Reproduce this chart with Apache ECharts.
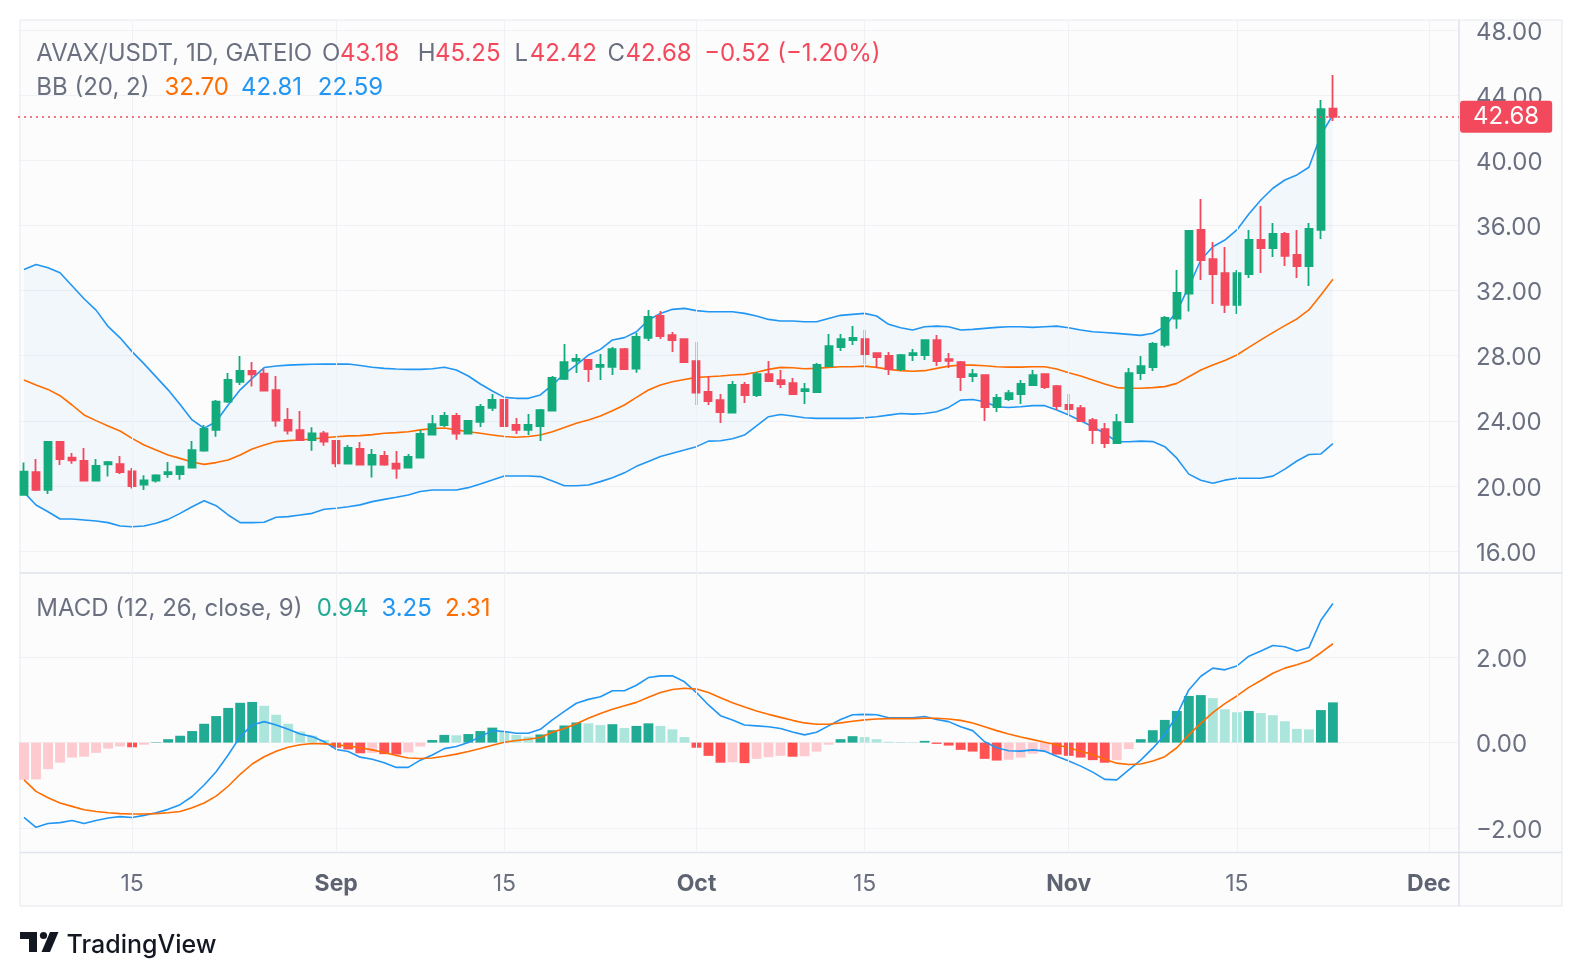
<!DOCTYPE html>
<html><head><meta charset="utf-8">
<script src="https://cdn.jsdelivr.net/npm/echarts@6/dist/echarts.min.js"></script>
<style>html,body{margin:0;padding:0;background:#fff}#c{width:1582px;height:978px}</style>
</head><body><div id="c"></div><script>
// ---- categories (daily, 2024-08-06 .. 2024-12-03) ----
const monthNames = ['Jan','Feb','Mar','Apr','May','Jun','Jul','Aug','Sep','Oct','Nov','Dec'];
const dates = [];
for (let i = 0; i < 120; i++) { const t = new Date(Date.UTC(2024, 7, 6 + i)); dates.push(monthNames[t.getUTCMonth()] + ' ' + t.getUTCDate()); }
const tickDates = ['Aug 15','Sep 1','Sep 15','Oct 1','Oct 15','Nov 1','Nov 15','Dec 1'];
const tickLabels = ['15','Sep','15','Oct','15','Nov','15','Dec'];
const priceTicks = [16,20,24,28,32,36,40,44,48];
const macdTicks = [-2,0,2];

// ---- OHLC ----
const opens = [19.44,20.85,19.75,22.70,21.73,21.53,20.32,21.32,21.34,20.89,
20.07,20.32,20.73,20.73,21.12,22.16,23.45,25.18,26.40,27.06,
26.90,25.89,24.05,23.43,22.82,23.23,22.76,21.37,22.27,21.30,
21.84,21.37,21.12,21.74,23.15,23.74,24.30,23.21,23.93,24.79,
25.28,23.74,23.44,23.68,24.62,26.57,27.68,27.74,27.31,27.31,
28.41,27.20,29.09,30.44,29.27,29.02,27.67,25.77,25.27,24.50,
26.20,25.58,26.87,26.50,26.32,25.83,25.77,27.36,28.53,28.96,
29.02,28.16,27.98,27.18,28.04,28.04,28.96,27.79,27.61,26.75,
26.81,24.84,25.34,25.64,26.20,26.87,26.13,24.97,24.78,24.04,
23.49,22.63,23.92,26.93,27.30,28.66,30.28,31.81,35.73,33.94,
33.08,31.12,33.02,35.11,34.62,35.48,34.19,33.51,35.73,43.18];
const closes = [20.87,19.75,22.70,21.65,21.57,20.32,21.22,21.45,20.85,19.99,
20.34,20.65,20.85,21.18,22.20,23.50,25.18,26.51,27.06,26.86,
25.85,24.01,23.39,22.82,23.23,22.72,21.39,22.33,21.30,21.90,
21.30,21.06,21.78,23.19,23.80,24.30,23.21,23.99,24.85,25.28,
23.68,23.44,23.74,24.66,26.63,27.61,27.80,27.18,27.43,28.41,
27.18,29.15,30.38,29.21,28.96,27.61,25.73,25.21,24.54,26.20,
25.58,26.87,26.44,26.26,25.64,25.95,27.43,28.59,29.02,29.09,
28.10,27.92,27.18,28.04,28.16,28.96,27.67,27.69,26.69,26.87,
24.84,25.40,25.70,26.26,26.81,26.07,24.90,24.72,23.98,23.43,
22.63,23.92,26.93,27.36,28.72,30.32,31.86,35.67,33.88,33.02,
31.12,33.08,35.11,34.62,35.48,34.13,33.51,35.79,43.16,42.68];
const lows = [19.40,19.68,19.50,21.28,21.36,20.30,20.30,20.57,20.73,19.83,
19.75,20.20,20.50,20.38,21.10,22.10,23.02,25.10,26.20,26.10,
25.80,23.64,23.15,22.78,22.16,22.47,21.14,21.35,21.28,20.51,
21.24,20.44,21.06,21.70,23.10,23.62,22.84,23.18,23.62,24.60,
23.62,23.19,23.13,22.76,24.58,26.51,26.94,26.39,26.51,26.82,
27.12,26.95,28.90,29.02,28.22,27.55,24.97,24.97,23.86,24.44,
25.09,25.46,26.40,26.01,25.60,25.03,25.70,27.30,28.29,28.65,
27.49,27.24,26.81,27.06,27.67,27.73,27.36,27.24,25.83,26.38,
23.98,24.54,25.21,25.03,26.14,25.95,24.66,24.35,23.96,22.57,
22.32,22.57,23.90,26.50,27.06,28.52,29.66,30.71,32.65,31.18,
30.62,30.56,32.78,33.08,34.07,33.51,32.78,32.29,35.17,42.42];
const highs = [21.43,21.65,22.76,22.76,22.02,22.33,21.65,21.53,21.84,21.10,
20.65,20.71,21.47,21.24,22.76,23.74,25.28,26.94,27.98,27.61,
27.20,26.75,24.79,24.60,23.60,23.37,22.82,22.51,22.70,22.27,
22.14,22.14,21.96,23.44,24.36,24.54,24.48,24.05,25.03,25.65,
25.34,24.17,24.42,24.72,26.75,28.72,28.11,27.80,28.11,28.54,
28.48,29.39,30.81,30.74,29.45,29.05,28.84,26.75,25.64,26.44,
26.38,27.00,27.67,27.12,26.63,26.32,27.55,29.33,29.33,29.82,
29.58,28.16,28.22,28.10,28.41,28.96,29.27,28.16,27.67,27.18,
26.81,25.64,25.89,26.50,27.12,26.87,26.20,25.64,24.97,24.17,
23.86,24.41,27.24,27.98,28.84,30.44,33.27,35.73,37.63,34.99,
34.68,33.27,35.73,37.20,36.16,35.60,35.73,36.16,43.72,45.25];

// ---- Bollinger Bands (20, 2) ----
const bbUpper = [33.3,33.6,33.4,33.1,32.3,31.5,30.8,29.8,29.1,28.25,
27.5,26.7,25.9,25.0,24.05,23.54,23.95,24.97,25.9,26.61,
27.27,27.37,27.42,27.45,27.47,27.48,27.48,27.49,27.4,27.29,
27.22,27.18,27.16,27.16,27.2,27.29,27.12,26.75,26.26,25.83,
25.44,25.38,25.38,25.59,26.2,26.88,27.43,28.04,28.39,28.97,
29.11,29.47,30.19,30.6,30.85,30.91,30.77,30.7,30.7,30.7,
30.6,30.44,30.23,30.13,30.13,30.09,30.09,30.29,30.48,30.54,
30.6,30.44,29.93,29.72,29.58,29.78,29.82,29.78,29.58,29.62,
29.68,29.74,29.78,29.78,29.74,29.78,29.82,29.72,29.58,29.47,
29.43,29.37,29.31,29.25,29.38,29.79,30.71,32.24,33.88,34.7,
35.11,35.73,36.71,37.57,38.29,38.8,39.11,39.58,41.57,42.81];
const bbBasis = [26.5,26.2,25.93,25.54,24.97,24.36,24.01,23.68,23.37,22.92,
22.51,22.2,21.9,21.69,21.47,21.32,21.43,21.59,21.9,22.27,
22.51,22.72,22.78,22.82,22.88,22.96,23.02,23.07,23.09,23.15,
23.23,23.27,23.33,23.44,23.52,23.56,23.44,23.33,23.23,23.13,
23.03,22.99,23.03,23.13,23.33,23.58,23.85,24.05,24.30,24.62,
24.97,25.44,25.89,26.2,26.4,26.54,26.67,26.71,26.75,26.81,
26.85,26.98,27.16,27.28,27.26,27.2,27.22,27.28,27.32,27.32,
27.36,27.28,27.16,27.08,27.04,27.08,27.22,27.36,27.42,27.42,
27.38,27.32,27.3,27.3,27.32,27.32,27.18,26.95,26.75,26.5,
26.26,26.04,26.0,26.0,26.04,26.1,26.30,26.71,27.12,27.43,
27.70,28.04,28.51,28.97,29.42,29.85,30.26,30.81,31.73,32.70];
const bbLower = [19.6,18.82,18.41,17.96,17.96,17.9,17.84,17.74,17.53,17.49,
17.53,17.70,17.94,18.31,18.72,19.09,18.78,18.21,17.74,17.74,
17.76,18.07,18.11,18.21,18.31,18.56,18.62,18.72,18.83,19.03,
19.17,19.3,19.44,19.65,19.75,19.75,19.75,19.89,20.12,20.36,
20.61,20.61,20.61,20.57,20.30,20.01,20.01,20.05,20.26,20.50,
20.8,21.2,21.5,21.8,22.0,22.2,22.41,22.75,22.77,22.9,
23.12,23.68,24.25,24.39,24.29,24.19,24.15,24.15,24.15,24.15,
24.19,24.25,24.35,24.45,24.41,24.45,24.56,24.82,25.27,25.31,
25.17,24.86,24.82,24.86,24.93,24.93,24.66,24.35,24.0,23.63,
23.22,22.72,22.71,22.75,22.72,22.41,21.7,20.72,20.35,20.16,
20.35,20.47,20.47,20.47,20.6,21.03,21.53,21.93,21.96,22.59];

// ---- MACD (12, 26, close, 9) ----
const macdHist = [-0.87,-0.86,-0.62,-0.47,-0.35,-0.33,-0.24,-0.14,-0.09,-0.11,
-0.05,0.01,0.08,0.16,0.27,0.44,0.62,0.81,0.93,0.95,
0.86,0.65,0.44,0.26,0.16,0.06,-0.12,-0.16,-0.25,-0.24,
-0.27,-0.28,-0.23,-0.09,0.06,0.18,0.17,0.20,0.27,0.35,
0.25,0.18,0.14,0.19,0.29,0.40,0.47,0.45,0.41,0.43,
0.34,0.39,0.45,0.39,0.31,0.13,-0.12,-0.31,-0.47,-0.46,
-0.48,-0.38,-0.34,-0.31,-0.33,-0.32,-0.21,-0.05,0.08,0.15,
0.13,0.08,0.02,0.015,0.01,0.04,-0.03,-0.07,-0.17,-0.21,
-0.38,-0.42,-0.40,-0.35,-0.26,-0.22,-0.28,-0.31,-0.35,-0.41,
-0.47,-0.41,-0.15,0.08,0.29,0.53,0.74,1.09,1.11,1.04,
0.78,0.71,0.74,0.69,0.64,0.50,0.32,0.31,0.76,0.94];
const macdLine = [-1.75,-1.98,-1.89,-1.87,-1.82,-1.89,-1.82,-1.76,-1.73,-1.75,
-1.70,-1.64,-1.56,-1.45,-1.26,-0.99,-0.68,-0.29,0.14,0.41,
0.49,0.41,0.31,0.20,0.14,0.02,-0.16,-0.21,-0.34,-0.39,
-0.47,-0.58,-0.58,-0.41,-0.29,-0.14,-0.09,0.00,0.14,0.28,
0.26,0.22,0.22,0.31,0.53,0.73,0.92,1.01,1.07,1.21,
1.21,1.34,1.52,1.56,1.56,1.42,1.17,0.88,0.63,0.53,
0.41,0.39,0.37,0.33,0.25,0.18,0.24,0.39,0.54,0.65,
0.66,0.65,0.58,0.58,0.58,0.61,0.54,0.49,0.37,0.28,
0.02,-0.12,-0.19,-0.20,-0.17,-0.20,-0.32,-0.43,-0.55,-0.69,
-0.86,-0.87,-0.64,-0.41,-0.13,0.18,0.64,1.23,1.55,1.74,
1.70,1.79,2.02,2.14,2.27,2.24,2.14,2.22,2.86,3.25];
const macdSignal = [-0.87,-1.14,-1.29,-1.41,-1.49,-1.57,-1.61,-1.64,-1.66,-1.67,
-1.67,-1.66,-1.64,-1.61,-1.52,-1.41,-1.25,-1.02,-0.74,-0.50,
-0.33,-0.20,-0.11,-0.05,-0.02,-0.03,-0.05,-0.08,-0.12,-0.17,
-0.23,-0.30,-0.36,-0.37,-0.36,-0.32,-0.27,-0.21,-0.14,-0.06,
0.01,0.05,0.08,0.12,0.24,0.33,0.44,0.57,0.68,0.78,
0.86,0.94,1.06,1.17,1.24,1.27,1.25,1.17,1.05,0.93,
0.83,0.74,0.66,0.59,0.52,0.46,0.43,0.43,0.46,0.50,
0.53,0.55,0.56,0.56,0.56,0.57,0.57,0.55,0.52,0.46,
0.37,0.28,0.20,0.13,0.07,0.01,-0.05,-0.12,-0.20,-0.28,
-0.39,-0.48,-0.51,-0.50,-0.43,-0.33,-0.12,0.18,0.45,0.70,
0.91,1.09,1.29,1.45,1.62,1.74,1.82,1.91,2.10,2.31];

// ---- styling ----
const FONT = 'Inter, "Noto Sans", sans-serif';
const GREEN = '#13AB7B', RED = '#F2495C';
const BLUE = '#2196F3', ORANGE = '#FF6D00';
const GRAY = '#6B7080', GRID = '#EFF1F5', BORDER = '#E0E3EB';
const H_DG = '#22AB94', H_LG = '#ACE5DC', H_DR = '#FF5252', H_LR = '#FDCBCF';

const candles = opens.map((o, i) => [o, closes[i], lows[i], highs[i]]);
const bandWidthData = bbUpper.map((u, i) => +(u - bbLower[i]).toFixed(4));
const histData = macdHist.map((v, i) => {
  const prev = i > 0 ? macdHist[i - 1] : -Infinity;
  const c = v >= 0 ? (v >= prev ? H_DG : H_LG) : (v < prev ? H_DR : H_LR);
  return { value: v, itemStyle: { color: c } };
});
const lastClose = closes[closes.length - 1];

function vLines() {
  return { silent: true, symbol: ['none', 'none'], label: { show: false },
    lineStyle: { color: GRID, width: 1, type: 'solid' },
    emphasis: { disabled: true },
    data: tickDates.map(d => ({ xAxis: d })) };
}
function txt(text, x, y, color, size, weight) {
  return { type: 'text', x: x, y: y, z: 20, silent: true,
    style: { text: text, fill: color, fontSize: size || 24, fontFamily: FONT, fontWeight: weight || 'normal',
      align: 'left', verticalAlign: 'middle', textAlign: 'left', textVerticalAlign: 'middle' } };
}

const chart = echarts.init(document.getElementById('c'), null, { renderer: 'canvas' });
const L1 = 53.5, L2 = 87.8, L3 = 608.4;
const yLabelBase = { margin: 17, fontSize: 24, color: GRAY, fontFamily: FONT, verticalAlign: 'top', lineHeight: 5 };
const option = {
  animation: false,
  backgroundColor: '#ffffff',
  textStyle: { fontFamily: FONT },
  grid: [
    { left: 18, top: 20, width: 1441, height: 553, containLabel: false, outerBoundsMode: 'none' },
    { left: 18, top: 573, width: 1441, height: 279.5, containLabel: false, outerBoundsMode: 'none' }
  ],
  xAxis: [
    { type: 'category', gridIndex: 0, data: dates, boundaryGap: true,
      axisLine: { show: false }, axisTick: { show: false }, axisLabel: { show: false }, splitLine: { show: false } },
    { type: 'category', gridIndex: 1, data: dates, boundaryGap: true,
      axisLine: { show: false }, axisTick: { show: false }, splitLine: { show: false },
      axisLabel: {
        show: true, margin: 20,
        interval: (idx, val) => tickDates.indexOf(val) >= 0,
        formatter: (val) => { const t = tickLabels[tickDates.indexOf(val)] || ''; return /\d/.test(t) ? '{n|' + t + '}' : '{m|' + t + '}'; },
        rich: {
          n: { fontSize: 23, color: GRAY, fontFamily: FONT },
          m: { fontSize: 23, color: '#5E6372', fontWeight: 'bold', fontFamily: FONT }
        }
      } }
  ],
  yAxis: [
    { type: 'value', gridIndex: 0, position: 'right', min: 14.644, max: 48.633,
      axisLine: { show: false }, axisTick: { show: false, customValues: priceTicks },
      axisLabel: Object.assign({ customValues: priceTicks, formatter: v => Number(v).toFixed(2) }, yLabelBase),
      splitLine: { show: true, lineStyle: { color: GRID, width: 1 } } },
    { type: 'value', gridIndex: 1, position: 'right', min: -2.568, max: 3.963,
      axisLine: { show: false }, axisTick: { show: false, customValues: macdTicks },
      axisLabel: Object.assign({ customValues: macdTicks, formatter: v => (v < 0 ? '\u2212' : '') + Math.abs(v).toFixed(2) }, yLabelBase),
      splitLine: { show: true, lineStyle: { color: GRID, width: 1 } } }
  ],
  series: [
    { name: 'bbBase', type: 'line', xAxisIndex: 0, yAxisIndex: 0, data: bbLower, stack: 'bb', symbol: 'none',
      lineStyle: { opacity: 0 }, silent: true, z: 1, markLine: vLines() },
    { name: 'bbFill', type: 'line', xAxisIndex: 0, yAxisIndex: 0, data: bandWidthData, stack: 'bb', symbol: 'none',
      lineStyle: { opacity: 0 }, areaStyle: { color: 'rgba(33,150,243,0.065)' }, silent: true, z: 1 },
    { name: 'Upper', type: 'line', xAxisIndex: 0, yAxisIndex: 0, data: bbUpper, symbol: 'none', silent: true,
      lineStyle: { color: BLUE, width: 1.6 }, z: 2 },
    { name: 'Lower', type: 'line', xAxisIndex: 0, yAxisIndex: 0, data: bbLower, symbol: 'none', silent: true,
      lineStyle: { color: BLUE, width: 1.6 }, z: 2 },
    { name: 'Basis', type: 'line', xAxisIndex: 0, yAxisIndex: 0, data: bbBasis, symbol: 'none', silent: true,
      lineStyle: { color: ORANGE, width: 1.6 }, z: 2 },
    { name: 'AVAX', type: 'candlestick', xAxisIndex: 0, yAxisIndex: 0, data: candles, barWidth: 7.5, z: 3,
      itemStyle: { color: GREEN, color0: RED, borderColor: GREEN, borderColor0: RED, borderWidth: 1.8 },
      markLine: { silent: true, symbol: ['none', 'none'], data: [{ yAxis: lastClose }],
        lineStyle: { color: RED, type: [2, 4], width: 1.5 },
        label: { show: true, position: 'end', distance: 1, formatter: () => lastClose.toFixed(2),
          color: '#ffffff', backgroundColor: RED, padding: [5, 13, 3, 13], borderRadius: 3, fontSize: 24, fontFamily: FONT } } },
    { name: 'gridHelper', type: 'line', xAxisIndex: 1, yAxisIndex: 1, data: macdSignal, symbol: 'none',
      lineStyle: { opacity: 0 }, silent: true, z: 1, markLine: vLines() },
    { name: 'Histogram', type: 'bar', xAxisIndex: 1, yAxisIndex: 1, data: histData, barWidth: '82%', silent: true, z: 2 },
    { name: 'MACD', type: 'line', xAxisIndex: 1, yAxisIndex: 1, data: macdLine, symbol: 'none', silent: true,
      lineStyle: { color: BLUE, width: 1.6 }, z: 3 },
    { name: 'Signal', type: 'line', xAxisIndex: 1, yAxisIndex: 1, data: macdSignal, symbol: 'none', silent: true,
      lineStyle: { color: ORANGE, width: 1.6 }, z: 3 }
  ],
  graphic: { elements: [
    { type: 'rect', z: -10, silent: true, shape: { x: 20, y: 20, width: 1542, height: 886 },
      style: { fill: '#FCFCFD', stroke: '#E6E8EE', lineWidth: 1 } },
    { type: 'line', z: 5, silent: true, shape: { x1: 20, y1: 573, x2: 1562, y2: 573 }, style: { stroke: BORDER, lineWidth: 1.5 } },
    { type: 'line', z: 5, silent: true, shape: { x1: 20, y1: 852.5, x2: 1562, y2: 852.5 }, style: { stroke: BORDER, lineWidth: 1.5 } },
    { type: 'line', z: 5, silent: true, shape: { x1: 1459, y1: 20, x2: 1459, y2: 906 }, style: { stroke: BORDER, lineWidth: 1.5 } },
    txt('AVAX/USDT, 1D, GATEIO', 36.3, L1, GRAY),
    txt('O', 322, L1, GRAY), txt('43.18', 340, L1, RED),
    txt('H', 417.7, L1, GRAY), txt('45.25', 435, L1, RED),
    txt('L', 514.6, L1, GRAY), txt('42.42', 529.7, L1, RED),
    txt('C', 607.4, L1, GRAY), txt('42.68', 625.5, L1, RED),
    txt('\u22120.52 (\u22121.20%)', 704.2, L1, RED),
    txt('BB (20, 2)', 36.3, L2, GRAY),
    txt('32.70', 164.5, L2, ORANGE), txt('42.81', 241, L2, BLUE), txt('22.59', 317.8, L2, BLUE),
    txt('MACD (12, 26, close, 9)', 36.3, L3, GRAY),
    txt('0.94', 316.8, L3, H_DG), txt('3.25', 381.4, L3, BLUE), txt('2.31', 445, L3, ORANGE),
    { type: 'rect', z: 20, silent: true, shape: { x: 20, y: 932, width: 17, height: 7 }, style: { fill: '#131722' } },
    { type: 'rect', z: 20, silent: true, shape: { x: 29, y: 932, width: 8, height: 20 }, style: { fill: '#131722' } },
    { type: 'circle', z: 20, silent: true, shape: { cx: 43.5, cy: 935.5, r: 3.6 }, style: { fill: '#131722' } },
    { type: 'polygon', z: 20, silent: true, shape: { points: [[50, 932], [58.5, 932], [50, 952], [41.5, 952]] }, style: { fill: '#131722' } },
    txt('TradingView', 66.6, 945, '#131722', 25, 500)
  ] }
};
chart.setOption(option);
</script></body></html>
